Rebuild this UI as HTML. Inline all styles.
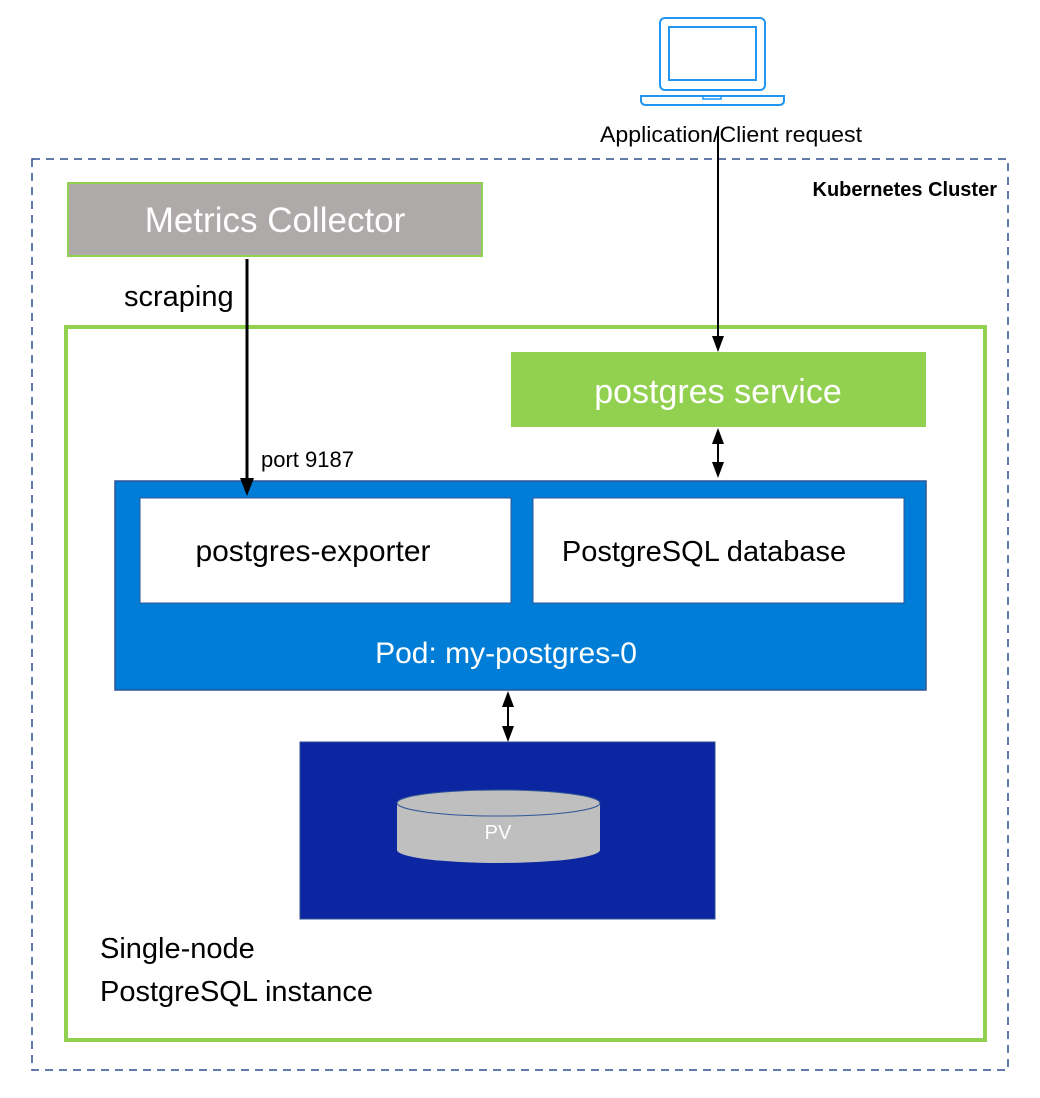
<!DOCTYPE html>
<html><head><meta charset="utf-8"><style>
html,body{margin:0;padding:0;background:#fff;}
svg{display:block;font-family:"Liberation Sans",sans-serif;}
</style></head><body>
<svg width="1040" height="1098" viewBox="0 0 1040 1098" xmlns="http://www.w3.org/2000/svg">
<!-- laptop -->
<rect x="660" y="18" width="105" height="72" rx="5" fill="none" stroke="#2196f3" stroke-width="2"/>
<rect x="669" y="27" width="87" height="53" fill="none" stroke="#2196f3" stroke-width="2"/>
<path d="M641,96 L784,96 L784,100 Q784,105 779,105 L646,105 Q641,105 641,100 Z" fill="none" stroke="#2196f3" stroke-width="2"/>
<path d="M703,96 L703,99 L721,99 L721,96" fill="none" stroke="#2196f3" stroke-width="1.5"/>
<text x="731" y="142" font-size="22" text-anchor="middle" fill="#000" textLength="262" lengthAdjust="spacingAndGlyphs">Application/Client  request</text>
<!-- cluster -->
<rect x="32" y="159" width="976" height="911" fill="none" stroke="#2f4f8f" stroke-width="1.5" stroke-dasharray="8,6"/>
<text x="997" y="196" font-size="20" font-weight="bold" text-anchor="end" fill="#000">Kubernetes Cluster</text>
<!-- metrics collector -->
<rect x="68" y="183" width="414" height="73" fill="#aeaaa9" stroke="#92d050" stroke-width="2"/>
<text x="275" y="232" font-size="35" text-anchor="middle" fill="#fff">Metrics Collector</text>
<text x="124" y="306" font-size="29" fill="#000">scraping</text>
<!-- green box -->
<rect x="66" y="327" width="919" height="713" fill="none" stroke="#92d050" stroke-width="4"/>
<!-- service -->
<rect x="511" y="352" width="415" height="75" fill="#92d050"/>
<text x="718" y="403" font-size="34" text-anchor="middle" fill="#fff">postgres service</text>
<!-- pod -->
<rect x="115" y="481" width="811" height="209" fill="#007dd6" stroke="#2f5597" stroke-width="1.5"/>
<rect x="140" y="498" width="371" height="105" fill="#fff" stroke="#2f5597" stroke-width="1"/>
<rect x="533" y="498" width="371" height="105" fill="#fff" stroke="#2f5597" stroke-width="1"/>
<text x="313" y="561" font-size="30" text-anchor="middle" fill="#000">postgres-exporter</text>
<text x="704" y="561" font-size="29" text-anchor="middle" fill="#000">PostgreSQL database</text>
<text x="506" y="663" font-size="30" text-anchor="middle" fill="#fff">Pod: my-postgres-0</text>
<text x="261" y="467" font-size="22" fill="#000">port 9187</text>
<!-- PV -->
<rect x="300" y="742" width="415" height="177" fill="#0b26a0" stroke="#2f4f8f" stroke-width="1"/>
<path d="M397,803 L397,850 A101.5,13 0 0 0 600,850 L600,803 Z" fill="#bfbfbf"/>
<ellipse cx="498.5" cy="803" rx="101.5" ry="13" fill="#bfbfbf" stroke="#2f5597" stroke-width="1"/>
<text x="498" y="839" font-size="20" text-anchor="middle" fill="#fff">PV</text>
<text x="100" y="958" font-size="29" fill="#000">Single-node</text>
<text x="100" y="1001" font-size="29" fill="#000">PostgreSQL instance</text>
<!-- connectors -->
<line x1="247" y1="259" x2="247" y2="480" stroke="#000" stroke-width="3"/>
<polygon points="240,478 254,478 247,496" fill="#000"/>
<line x1="718" y1="127" x2="718" y2="340" stroke="#000" stroke-width="2"/>
<polygon points="712,336 724,336 718,352" fill="#000"/>
<line x1="718" y1="440" x2="718" y2="466" stroke="#000" stroke-width="2"/>
<polygon points="712,444 724,444 718,428" fill="#000"/>
<polygon points="712,462 724,462 718,478" fill="#000"/>
<line x1="508" y1="700" x2="508" y2="732" stroke="#000" stroke-width="2"/>
<polygon points="502,707 514,707 508,691" fill="#000"/>
<polygon points="502,726 514,726 508,742" fill="#000"/>
</svg>
</body></html>
